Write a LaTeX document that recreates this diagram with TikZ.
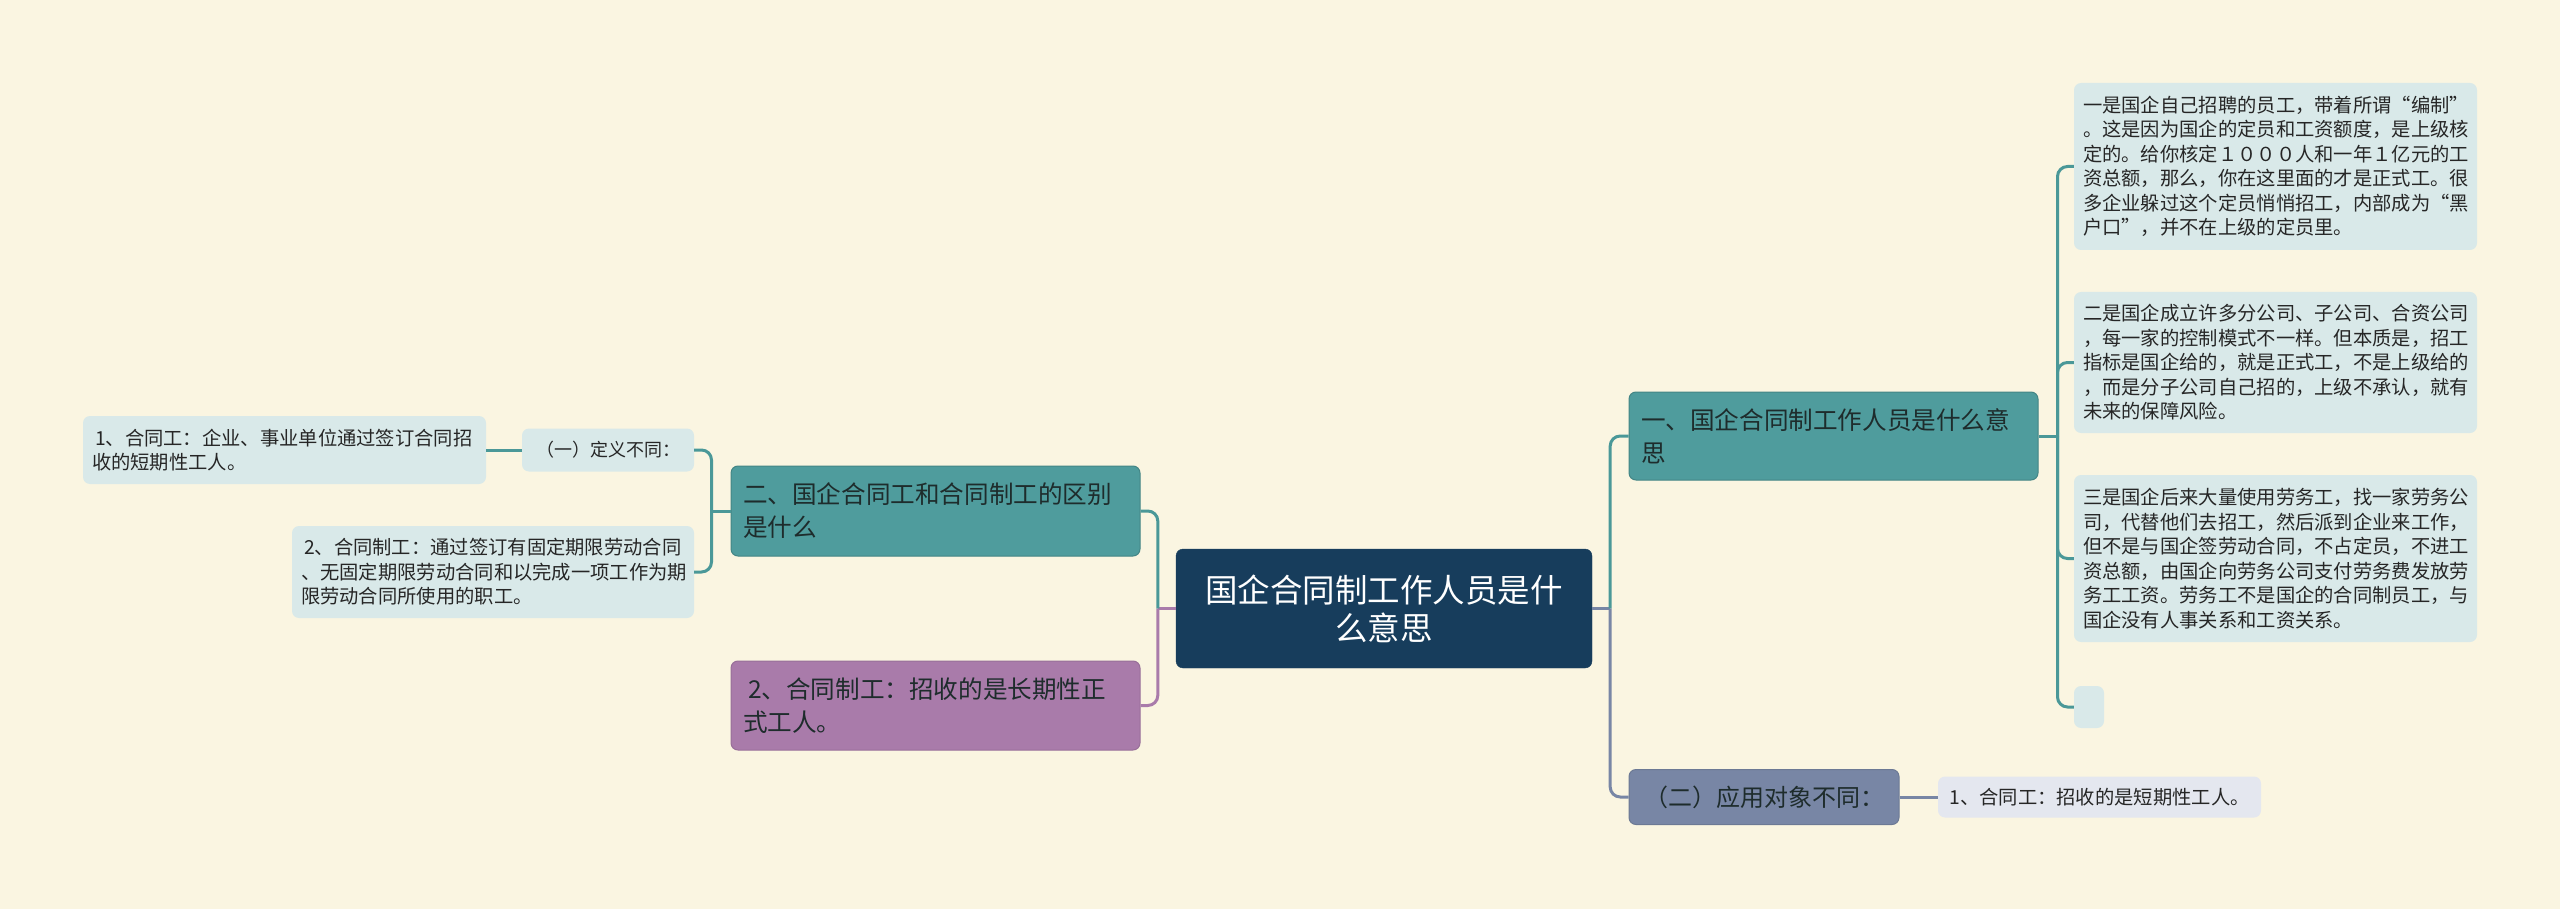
\documentclass[tikz,border=0pt]{standalone}
\usepackage{fontspec}
\setmainfont{Noto Sans CJK SC}
\definecolor{bg}{HTML}{FAF5E1}
\definecolor{navy}{HTML}{173D5C}
\definecolor{tealc}{HTML}{4F9C9D}
\definecolor{tealline}{HTML}{4A9898}
\definecolor{leafc}{HTML}{D9E9E9}
\definecolor{purp}{HTML}{A97BAA}
\definecolor{slate}{HTML}{7886A5}
\definecolor{slateleaf}{HTML}{E4E7EF}
\definecolor{txt}{HTML}{262626}
\definecolor{txtdark}{HTML}{1E2C2C}
\tikzset{
  basebox/.style={rectangle, rounded corners=7pt, inner ysep=0pt, anchor=center},
  rootbox/.style={basebox, fill=navy, draw=navy, text=white, align=center, inner xsep=20pt,
    font=\fontsize{32.5}{38}\selectfont},
  mainbox/.style={basebox, fill=tealc, draw=tealc!85!black, line width=1pt, text=txtdark, align=left, inner xsep=12pt,
    font=\fontsize{24.6}{33}\selectfont},
  purpbox/.style={mainbox, fill=purp, draw=purp!90!black},
  slatebox/.style={basebox, fill=slate, draw=slate!90!black, line width=1pt, text=txtdark, align=center, inner xsep=10pt,
    font=\fontsize{24}{30}\selectfont},
  leafbox/.style={basebox, fill=leafc, text=txt, align=left, inner xsep=9pt,
    font=\fontsize{19.3}{24.5}\selectfont},
  sleafbox/.style={leafbox, fill=slateleaf},
  conn/.style={line width=3pt},
  tconn/.style={conn, draw=tealline},
  pconn/.style={conn, draw=purp},
  sconn/.style={conn, draw=slate},
  rc/.style={rounded corners=10pt}
}
\begin{document}
\begin{tikzpicture}[x=1pt,y=-1pt]
\fill[bg] (0,0) rectangle (2560,909);
\useasboundingbox (0,0) rectangle (2560,909);

% root
\node[rootbox, text width=376pt, minimum height=119pt] (root) at (1384,608.5)
  {国企合同制工作人员是什\\么意思};

% right side
\node[mainbox, text width=385pt, minimum height=88pt] (r1) at (1833.5,436)
  {一、国企合同制工作人员是什么意\\思};
\node[leafbox, text width=385pt, minimum height=167pt] (la) at (2275.5,166.5)
  {一是国企自己招聘的员工，带着所谓“编制”\\。这是因为国企的定员和工资额度，是上级核\\定的。给你核定１０００人和一年１亿元的工\\资总额，那么，你在这里面的才是正式工。很\\多企业躲过这个定员悄悄招工，内部成为“黑\\户口”，并不在上级的定员里。};
\node[leafbox, text width=385pt, minimum height=141pt] (lb) at (2275.5,362.5)
  {二是国企成立许多分公司、子公司、合资公司\\，每一家的控制模式不一样。但本质是，招工\\指标是国企给的，就是正式工，不是上级给的\\，而是分子公司自己招的，上级不承认，就有\\未来的保障风险。};
\node[leafbox, text width=385pt, minimum height=167pt] (lc) at (2275.5,558.5)
  {三是国企后来大量使用劳务工，找一家劳务公\\司，代替他们去招工，然后派到企业来工作，\\但不是与国企签劳动合同，不占定员，不进工\\资总额，由国企向劳务公司支付劳务费发放劳\\务工工资。劳务工不是国企的合同制员工，与\\国企没有人事关系和工资关系。};
\node[leafbox, inner xsep=0pt, minimum width=30pt, minimum height=42pt] (ld) at (2089,707) {};

\node[slatebox, minimum width=270pt, minimum height=55pt] (s2) at (1764,797)
  {（二）应用对象不同：};
\node[sleafbox, align=center, minimum width=323pt, minimum height=41pt] (s2l) at (2099.5,797)
  {1、合同工：招收的是短期性工人。};

% left side
\node[mainbox, text width=385pt, minimum height=90pt] (l1) at (935.5,511)
  {二、国企合同工和合同制工的区别\\是什么};
\node[purpbox, text width=385pt, minimum height=89pt] (l2) at (935.5,705.5)
  {\hspace{5pt}2、合同制工：招收的是长期性正\\式工人。};
\node[leafbox, align=center, minimum width=172pt, minimum height=43pt, font=\fontsize{18}{24}\selectfont] (d1) at (608,450)
  {（一）定义不同：};
\node[leafbox, text width=385pt, minimum height=68pt] (e1) at (284.5,450)
  {\hspace{3pt}1、合同工：企业、事业单位通过签订合同招\\收的短期性工人。};
\node[leafbox, text width=384pt, minimum height=92pt] (e2) at (493,572)
  {\hspace{3pt}2、合同制工：通过签订有固定期限劳动合同\\、无固定期限劳动合同和以完成一项工作为期\\限劳动合同所使用的职工。};

% connectors right
\draw[sconn] (root.east) -- ++(18,0) coordinate (cr);
\draw[tconn, rc] (cr) |- (r1.west);
\draw[sconn, rc] (cr) |- (s2.west);
\draw[tconn] (r1.east) -- ++(19,0) coordinate (rb);
\draw[tconn, rc] (rb) |- (la.west);
\draw[tconn, rc] (rb) |- (lb.west);
\draw[tconn, rc] (rb) |- (lc.west);
\draw[tconn, rc] (rb) |- (ld.west);
\draw[sconn] (s2.east) -- (s2l.west);

% connectors left
\draw[pconn] (root.west) -- ++(-18,0) coordinate (cl);
\draw[tconn, rc] (cl) |- (l1.east);
\draw[pconn, rc] (cl) |- (l2.east);
\draw[tconn] (l1.west) -- ++(-19,0) coordinate (lbus);
\draw[tconn, rc] (lbus) |- (d1.east);
\draw[tconn, rc] (lbus) |- (e2.east);
\draw[tconn] (d1.west) -- (e1.east);
\end{tikzpicture}
\end{document}
